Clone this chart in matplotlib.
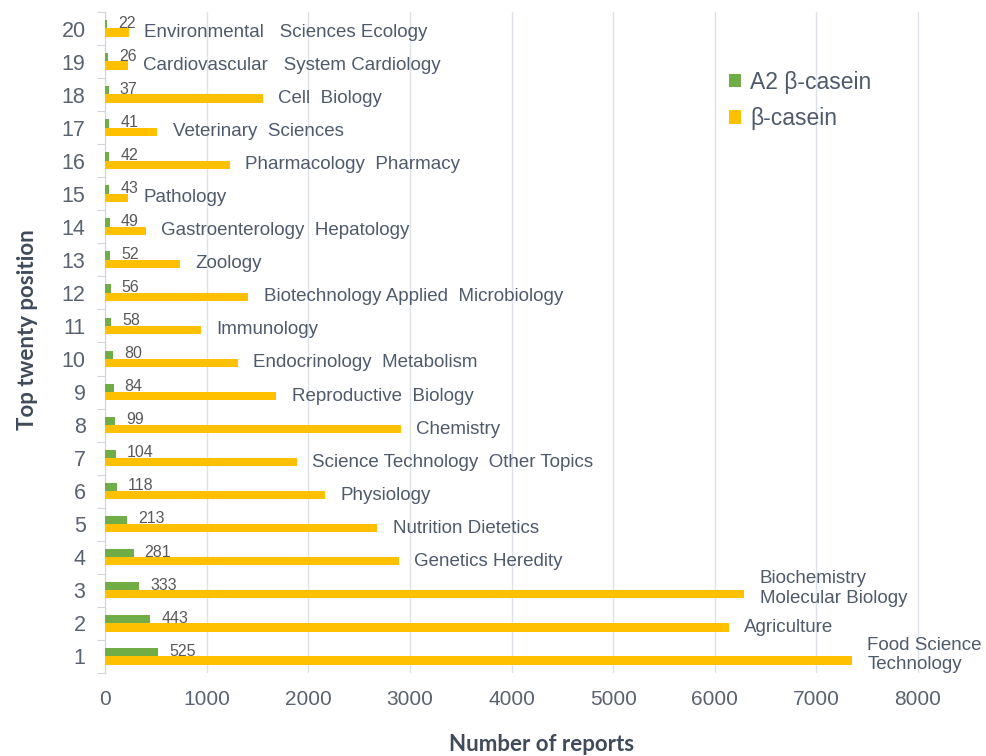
import numpy as np
import matplotlib.pyplot as plt

positions = np.arange(1, 21)
a2_casein = [525, 443, 333, 281, 213, 118, 104, 99, 84, 80,
             58, 56, 52, 49, 43, 42, 41, 37, 26, 22]
b_casein = [7350, 6140, 6290, 2895, 2680, 2165, 1890, 2910, 1685, 1305,
            945, 1410, 738, 403, 225, 1230, 515, 1555, 226, 236]
categories = ['Food Science\nTechnology', 'Agriculture', 'Biochemistry\nMolecular Biology',
              'Genetics Heredity', 'Nutrition Dietetics', 'Physiology',
              'Science Technology  Other Topics', 'Chemistry', 'Reproductive  Biology',
              'Endocrinology  Metabolism', 'Immunology', 'Biotechnology Applied  Microbiology',
              'Zoology', 'Gastroenterology  Hepatology', 'Pathology', 'Pharmacology  Pharmacy',
              'Veterinary  Sciences', 'Cell  Biology', 'Cardiovascular   System Cardiology',
              'Environmental   Sciences Ecology']
x_ticks = [0, 1000, 2000, 3000, 4000, 5000, 6000, 7000, 8000]

green = '#70ad47'
yellow = '#ffc000'
text_col = '#4f5a6b'

plt.rcParams['font.family'] = ['Liberation Sans', 'DejaVu Sans']

fig = plt.figure(figsize=(9.86, 7.56), dpi=100)
ax = fig.add_axes([105/986, 1 - 673/756, (979 - 105)/986, (673 - 12)/756])

h = 0.25
ax.barh(positions + 0.13, a2_casein, height=h, color=green, label='A2 β-casein', zorder=3)
ax.barh(positions - 0.12, b_casein, height=h, color=yellow, label='β-casein', zorder=3)

for p, v in zip(positions, a2_casein):
    ax.annotate(str(v), (v, p + 0.16), xytext=(8, 0), textcoords='offset points',
                va='center', ha='left', fontsize=11.5, color='#595959')

for p, v, c in zip(positions, b_casein, categories):
    ax.annotate(c, (v, p - 0.12), xytext=(11, 4 if '\n' in c else 0), textcoords='offset points',
                va='center', ha='left', fontsize=13.5, color=text_col, linespacing=1.2)

ax.set_xlim(0, 8600)
ax.set_ylim(0.5, 20.5)
ax.set_xticks(x_ticks)
ax.set_xticklabels([str(t) for t in x_ticks], fontsize=15, color='#5a6270')
ax.tick_params(axis='x', length=0, pad=12)

ax.set_yticks(np.arange(0.5, 21, 1))
ax.set_yticklabels([])
ax.set_yticks(positions, minor=True)
ax.set_yticklabels([str(p) for p in positions], minor=True, fontsize=15.5, color='#5a6270')
ax.tick_params(axis='y', which='major', length=6, color='#d0d4dc')
ax.tick_params(axis='y', which='minor', length=0, pad=14)

ax.grid(axis='x', color='#dde1e8', lw=1, zorder=0)
for s in ['top', 'right', 'bottom']:
    ax.spines[s].set_visible(False)
ax.spines['left'].set_color('#d0d4dc')

ax.set_xlabel('Number of reports', fontsize=16, fontweight='bold', color='#404a5a',
              family='Lato', labelpad=18)
ax.set_ylabel('Top twenty position', fontsize=16, fontweight='bold', color='#404a5a',
              family='Lato')
ax.yaxis.set_label_coords(-0.077, 0.519)

leg = ax.legend(loc='upper left', bbox_to_anchor=(708/986, 1 - 50/756), bbox_transform=fig.transFigure,
                frameon=False, fontsize=16.5, handlelength=0.55, handleheight=0.55,
                handletextpad=0.4, labelspacing=0.6)
for t in leg.get_texts():
    t.set_color(text_col)

plt.savefig('out.png', dpi=100)
